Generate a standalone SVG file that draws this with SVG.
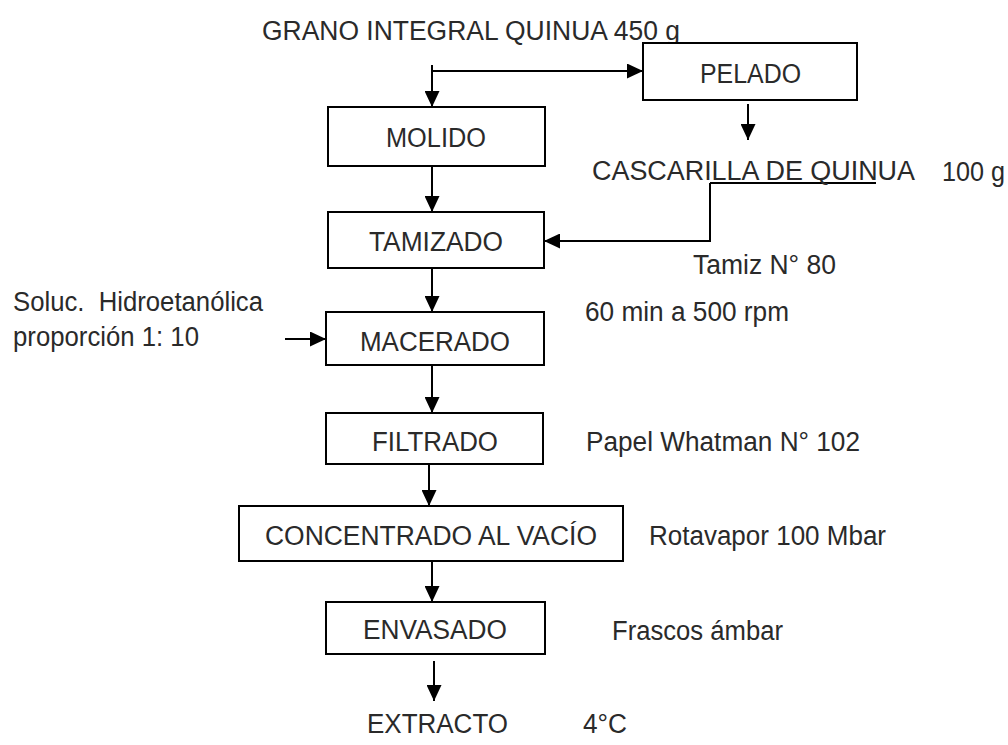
<svg xmlns="http://www.w3.org/2000/svg" width="1008" height="745" viewBox="0 0 1008 745">
<defs>
<marker id="ah" markerUnits="userSpaceOnUse" markerWidth="16" markerHeight="15" viewBox="0 0 16 15" refX="16" refY="7.5" orient="auto">
<path d="M0,0 L16,7.5 L0,15 Z" fill="#000"/>
</marker>
<style>
text{font-family:"Liberation Sans",Arial,sans-serif;font-size:27px;fill:#2a2a2a;white-space:pre;}
.box{fill:#fff;stroke:#000;stroke-width:2;}
.ln{fill:none;stroke:#000;stroke-width:2;}
.ar{fill:none;stroke:#000;stroke-width:2;marker-end:url(#ah);}
</style>
</defs>
<rect width="1008" height="745" fill="#fff"/>
<g id="connectors">
<path class="ln" d="M432,65 V71"/>
<path class="ar" d="M432,71 V107"/>
<path class="ar" d="M432,71 H643"/>
<path class="ar" d="M748,104 V140"/>
<path class="ar" d="M710,183 V241 H544"/>
<path class="ln" d="M710,183 H876"/>
<path class="ar" d="M432,166 V212"/>
<path class="ar" d="M432,268 V312"/>
<path class="ar" d="M285,339 H326"/>
<path class="ar" d="M432,365 V413"/>
<path class="ar" d="M429,464 V506"/>
<path class="ar" d="M432,561 V602"/>
<path class="ar" d="M434,661 V701"/>
</g>
<g id="grano"><text x="262" y="40" textLength="418" lengthAdjust="spacingAndGlyphs">GRANO INTEGRAL QUINUA 450 g</text></g>
<g id="pelado"><rect class="box" x="643" y="43" width="214" height="57"/><text x="700" y="83" textLength="101" lengthAdjust="spacingAndGlyphs">PELADO</text></g>
<g id="molido"><rect class="box" x="328" y="107" width="217" height="59"/><text x="386" y="147" textLength="100" lengthAdjust="spacingAndGlyphs">MOLIDO</text></g>
<g id="cascarilla"><text x="592" y="180" textLength="323" lengthAdjust="spacingAndGlyphs">CASCARILLA DE QUINUA</text><text x="942" y="181" textLength="63" lengthAdjust="spacingAndGlyphs">100 g</text></g>
<g id="tamizado"><rect class="box" x="328" y="212" width="216" height="56"/><text x="369" y="251" textLength="134" lengthAdjust="spacingAndGlyphs">TAMIZADO</text><text x="693" y="274" textLength="143" lengthAdjust="spacingAndGlyphs">Tamiz N° 80</text></g>
<g id="soluc"><text x="13" y="311" textLength="250" lengthAdjust="spacingAndGlyphs">Soluc.  Hidroetanólica</text><text x="13" y="346" textLength="186" lengthAdjust="spacingAndGlyphs">proporción 1: 10</text></g>
<g id="macerado"><rect class="box" x="326" y="312" width="218" height="53"/><text x="360" y="351" textLength="150" lengthAdjust="spacingAndGlyphs">MACERADO</text><text x="585" y="321" textLength="204" lengthAdjust="spacingAndGlyphs">60 min a 500 rpm</text></g>
<g id="filtrado"><rect class="box" x="326" y="413" width="217" height="51"/><text x="372" y="451" textLength="126" lengthAdjust="spacingAndGlyphs">FILTRADO</text><text x="586" y="451" textLength="274" lengthAdjust="spacingAndGlyphs">Papel Whatman N° 102</text></g>
<g id="concentrado"><rect class="box" x="239" y="506" width="384" height="55"/><text x="265" y="545" textLength="332" lengthAdjust="spacingAndGlyphs">CONCENTRADO AL VACÍO</text><text x="649" y="545" textLength="237" lengthAdjust="spacingAndGlyphs">Rotavapor 100 Mbar</text></g>
<g id="envasado"><rect class="box" x="326" y="602" width="219" height="52"/><text x="363" y="639" textLength="144" lengthAdjust="spacingAndGlyphs">ENVASADO</text><text x="612" y="640" textLength="171" lengthAdjust="spacingAndGlyphs">Frascos ámbar</text></g>
<g id="extracto"><text x="367" y="733" textLength="141" lengthAdjust="spacingAndGlyphs">EXTRACTO</text><text x="583" y="733" textLength="44" lengthAdjust="spacingAndGlyphs">4°C</text></g>
</svg>
